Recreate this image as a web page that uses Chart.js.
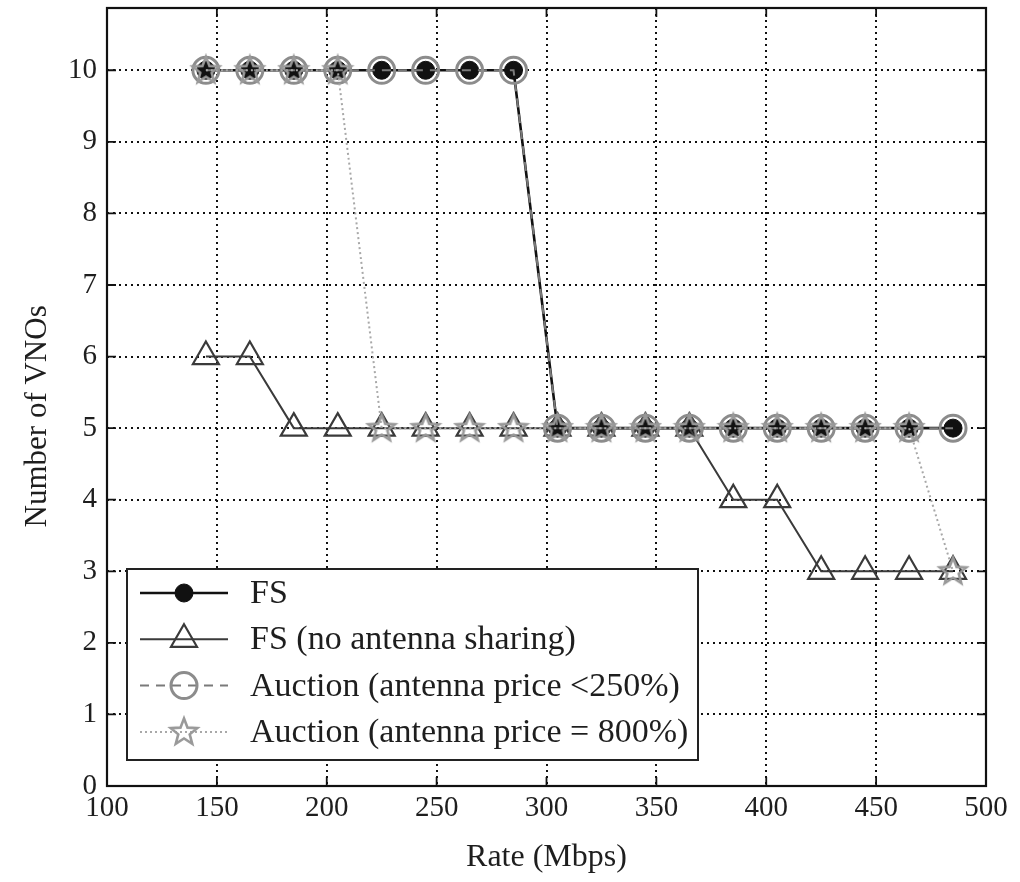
<!DOCTYPE html>
<html>
<head>
<meta charset="utf-8">
<title>Number of VNOs vs rate</title>
<script src="https://cdn.jsdelivr.net/npm/chart.js@4.4.0/dist/chart.umd.min.js"></script>
<style>
  html, body { margin: 0; padding: 0; background: #fff; }
  #wrap { width: 1020px; height: 882px; }
</style>
</head>
<body>
<div id="wrap"><canvas id="vno-chart" width="1020" height="882"></canvas></div>
<script>
// Offered rate per VNO (Mbps)
const rates = [145, 165, 185, 205, 225, 245, 265, 285, 305, 325, 345, 365, 385, 405, 425, 445, 465, 485];

// Number of admitted VNOs for each scheme
const fsVnos         = [10, 10, 10, 10, 10, 10, 10, 10, 5, 5, 5, 5, 5, 5, 5, 5, 5, 5];
const fsNoShareVnos  = [6, 6, 5, 5, 5, 5, 5, 5, 5, 5, 5, 5, 4, 4, 3, 3, 3, 3];
const auction250Vnos = [10, 10, 10, 10, 10, 10, 10, 10, 5, 5, 5, 5, 5, 5, 5, 5, 5, 5];
const auction800Vnos = [10, 10, 10, 10, 5, 5, 5, 5, 5, 5, 5, 5, 5, 5, 5, 5, 5, 3];

const seriesLabels = [
  'FS',
  'FS (no antenna sharing)',
  'Auction (antenna price <250%)',
  'Auction (antenna price = 800%)'
];

const xTicks = [100, 150, 200, 250, 300, 350, 400, 450, 500];
const yTicks = [0, 1, 2, 3, 4, 5, 6, 7, 8, 9, 10];

const serif = '"Liberation Serif", "DejaVu Serif", serif';
const textColor = '#1e1e1e';

// hollow five-point star used as marker
function makeStar(color) {
  const c = document.createElement('canvas');
  c.width = 34; c.height = 34;
  const g = c.getContext('2d');
  g.strokeStyle = color;
  g.lineWidth = 2.6;
  g.lineJoin = 'miter';
  g.beginPath();
  for (let i = 0; i < 10; i++) {
    const r = i % 2 === 0 ? 14 : 6;
    const a = -Math.PI / 2 + i * Math.PI / 5;
    const px = 17 + r * Math.cos(a), py = 17.5 + r * Math.sin(a);
    if (i === 0) g.moveTo(px, py); else g.lineTo(px, py);
  }
  g.closePath();
  g.stroke();
  return c;
}
const starImg = makeStar('#999');

function toPoints(ys) {
  return rates.map((x, i) => ({x: x, y: ys[i]}));
}

// frame round the plot plus inward tick marks on all four sides
const framePlugin = {
  id: 'frame',
  beforeDatasetsDraw(chart) {
    const {ctx, chartArea: a, scales} = chart;
    ctx.save();
    ctx.strokeStyle = '#111';
    ctx.lineWidth = 1.8;
    ctx.beginPath();
    xTicks.forEach(v => {
      const px = scales.x.getPixelForValue(v);
      ctx.moveTo(px, a.bottom); ctx.lineTo(px, a.bottom - 9);
      ctx.moveTo(px, a.top); ctx.lineTo(px, a.top + 9);
    });
    yTicks.forEach(v => {
      const py = scales.y.getPixelForValue(v);
      ctx.moveTo(a.left, py); ctx.lineTo(a.left + 9, py);
      ctx.moveTo(a.right, py); ctx.lineTo(a.right - 9, py);
    });
    ctx.stroke();
    ctx.lineWidth = 2.2;
    ctx.strokeRect(a.left, a.top, a.right - a.left, a.bottom - a.top);
    ctx.restore();
  }
};

// boxed legend in the lower left of the plot
const boxLegend = {
  id: 'boxLegend',
  afterDraw(chart) {
    const {ctx, chartArea: a} = chart;
    const x0 = a.left + 20, w = 571, h = 191;
    const y0 = a.bottom - 26 - h;
    ctx.save();
    ctx.fillStyle = '#fff';
    ctx.fillRect(x0, y0, w, h);
    ctx.strokeStyle = '#222';
    ctx.lineWidth = 2;
    ctx.strokeRect(x0, y0, w, h);

    chart.data.datasets.forEach((ds, i) => {
      const cy = y0 + 24 + i * 46.3;
      ctx.save();
      ctx.strokeStyle = ds.borderColor;
      ctx.lineWidth = ds.borderWidth;
      ctx.setLineDash(ds.borderDash || []);
      ctx.beginPath();
      ctx.moveTo(x0 + 13, cy);
      ctx.lineTo(x0 + 101, cy);
      ctx.stroke();
      ctx.setLineDash([]);
      ctx.fillStyle = ds.pointBackgroundColor;
      ctx.strokeStyle = ds.pointBorderColor;
      ctx.lineWidth = ds.pointBorderWidth;
      Chart.helpers.drawPoint(ctx, {
        pointStyle: ds.pointStyle,
        radius: ds.pointRadius,
        borderWidth: ds.pointBorderWidth,
        rotation: 0
      }, x0 + 57, cy);
      ctx.restore();

      ctx.fillStyle = textColor;
      ctx.font = '34px ' + serif;
      ctx.textBaseline = 'middle';
      ctx.fillText(ds.label, x0 + 123, cy + 1);
    });
    ctx.restore();
  }
};

new Chart(document.getElementById('vno-chart'), {
  type: 'line',
  data: {
    datasets: [
      {
        label: seriesLabels[0],
        data: toPoints(fsVnos),
        borderColor: '#111',
        borderWidth: 2.6,
        pointStyle: 'circle',
        pointRadius: 9,
        pointBackgroundColor: '#111',
        pointBorderColor: '#111',
        pointBorderWidth: 1,
        order: 4
      },
      {
        label: seriesLabels[1],
        data: toPoints(fsNoShareVnos),
        borderColor: '#3a3a3a',
        borderWidth: 2,
        pointStyle: 'triangle',
        pointRadius: 15,
        pointBackgroundColor: 'rgba(255,255,255,0)',
        pointBorderColor: '#3a3a3a',
        pointBorderWidth: 2.2,
        order: 3
      },
      {
        label: seriesLabels[2],
        data: toPoints(auction250Vnos),
        borderColor: '#7a7a7a',
        borderWidth: 2,
        borderDash: [9, 7],
        pointStyle: 'circle',
        pointRadius: 13,
        pointBackgroundColor: 'rgba(255,255,255,0)',
        pointBorderColor: '#8c8c8c',
        pointBorderWidth: 3,
        order: 2
      },
      {
        label: seriesLabels[3],
        data: toPoints(auction800Vnos),
        borderColor: '#a8a8a8',
        borderWidth: 2,
        borderDash: [2, 3],
        pointStyle: starImg,
        pointRadius: 14,
        pointBackgroundColor: 'rgba(255,255,255,0)',
        pointBorderColor: '#999',
        pointBorderWidth: 2.6,
        order: 1
      }
    ]
  },
  options: {
    responsive: false,
    animation: false,
    events: [],
    layout: {
      autoPadding: false,
      padding: { top: 8, right: 34, left: 0, bottom: 0 }
    },
    plugins: {
      legend: { display: false },
      tooltip: { enabled: false }
    },
    scales: {
      x: {
        type: 'linear',
        min: 100,
        max: 500,
        afterFit(scale) {
          scale.height = 96;
          scale.paddingLeft = 0;
          scale.paddingRight = 0;
        },
        ticks: {
          stepSize: 50,
          padding: 5,
          color: textColor,
          font: { family: serif, size: 29 }
        },
        grid: { color: '#111', lineWidth: 2, drawTicks: false },
        border: { display: false, dash: [2, 4] },
        title: {
          display: true,
          text: 'Rate (Mbps)',
          color: textColor,
          font: { family: serif, size: 32 },
          padding: { top: 0, bottom: 5 }
        }
      },
      y: {
        min: 0,
        max: 10.87,
        afterFit(scale) {
          scale.width = 107;
          scale.paddingTop = 0;
          scale.paddingBottom = 0;
        },
        ticks: {
          stepSize: 1,
          includeBounds: false,
          padding: 10,
          color: textColor,
          font: { family: serif, size: 29 }
        },
        grid: { color: '#111', lineWidth: 2, drawTicks: false },
        border: { display: false, dash: [2, 4] },
        title: {
          display: true,
          // trailing spaces nudge the rotated title a little lower
          text: 'Number of VNOs\u00a0\u00a0\u00a0\u00a0\u00a0',
          color: textColor,
          font: { family: serif, size: 31 },
          padding: { top: 19, bottom: 0 }
        }
      }
    }
  },
  plugins: [framePlugin, boxLegend]
});
</script>
</body>
</html>
